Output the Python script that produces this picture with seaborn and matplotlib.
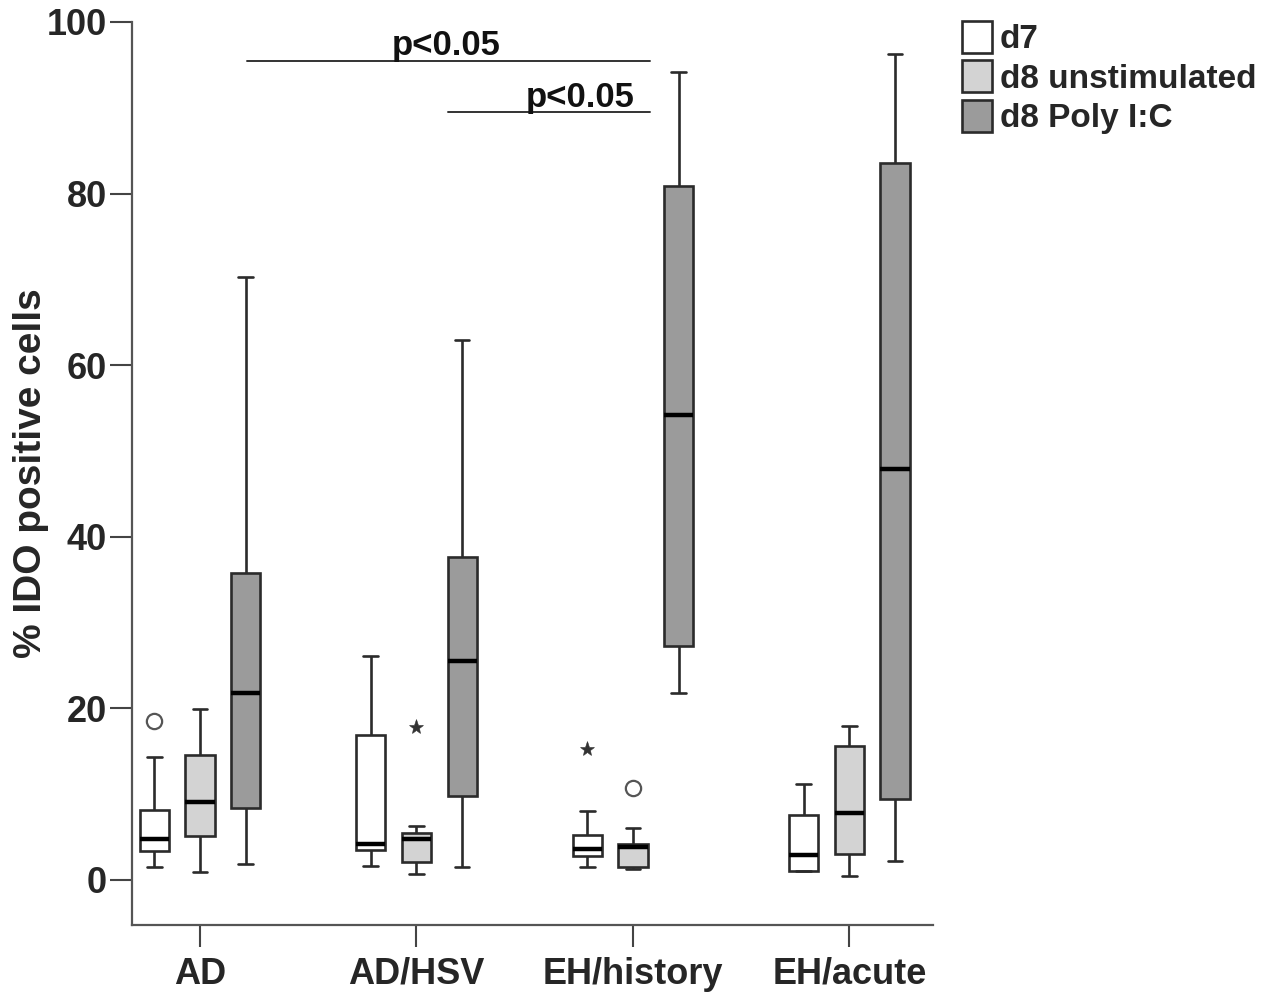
import numpy as np
import pandas as pd
import matplotlib.pyplot as plt
import seaborn as sns

# categories
groups = ["AD", "AD/HSV", "EH/history", "EH/acute"]
conditions = ["d7", "d8 unstimulated", "d8 Poly I:C"]
box_colors = ["#ffffff", "#d3d3d3", "#9b9b9b"]

# values (whisker low ... hinges/median ... whisker high, then outliers)
d7_values = [
    [1.5, 2.5, 3.4, 4.0, 4.8, 6.0, 8.2, 14.3, 18.5],
    [1.6, 3.5, 4.2, 16.9, 26.1],
    [1.5, 2.2, 2.8, 3.2, 3.6, 4.5, 5.2, 8.0, 15.3],
    [1.0, 1.0, 2.9, 7.6, 11.2],
]
d8_unstim_values = [
    [0.9, 5.1, 9.1, 14.6, 19.9],
    [0.7, 1.5, 2.1, 4.0, 4.8, 5.2, 5.5, 6.3, 17.8],
    [1.3, 1.4, 1.5, 3.0, 3.8, 4.0, 4.2, 6.1, 10.7],
    [0.5, 3.0, 7.8, 15.6, 18.0],
]
d8_polyic_values = [
    [1.9, 8.4, 21.8, 35.8, 70.3],
    [1.5, 9.8, 25.5, 37.6, 62.9],
    [21.8, 27.3, 54.2, 80.9, 94.2],
    [2.2, 9.4, 47.9, 83.6, 96.3],
]
# extreme values are marked with a star instead of a circle
extreme_outliers = [17.8, 15.3]

# significance brackets
sig_labels = ["p<0.05", "p<0.05"]
sig_x_start = [0.217, 1.145]
sig_x_end = [2.078, 2.078]
sig_y = [95.5, 89.5]
sig_text_x = [1.136, 1.755]

rows = []
for cond, per_group in zip(conditions, [d7_values, d8_unstim_values, d8_polyic_values]):
    for grp, vals in zip(groups, per_group):
        for v in vals:
            rows.append({"group": grp, "condition": cond, "value": v})
df = pd.DataFrame(rows)

sns.set_theme(style="white")
plt.rcParams["font.family"] = ["Liberation Sans", "DejaVu Sans"]
plt.rcParams["font.weight"] = "bold"

fig = plt.figure(figsize=(12.84, 9.98), dpi=100)
ax = fig.add_axes([0.1028, 0.0731, 0.6238, 0.9049])

sns.boxplot(
    data=df, x="group", y="value", hue="condition",
    order=groups, hue_order=conditions, palette=box_colors,
    saturation=1, width=0.633, gap=0.36, whis=1.5,
    linecolor="#2b2b2b", linewidth=1.9,
    medianprops={"color": "black", "linewidth": 3.2},
    flierprops={"marker": "o", "markersize": 11, "markerfacecolor": "white",
                "markeredgecolor": "#555555", "markeredgewidth": 1.6},
    ax=ax,
)

# restyle the extreme outliers as stars
for line in ax.lines:
    if line.get_marker() == "o":
        yd = np.asarray(line.get_ydata(), dtype=float)
        if len(yd) and np.any(np.isclose(yd[:, None], extreme_outliers).any(axis=1)):
            line.set_marker("*")
            line.set_markersize(11)
            line.set_markerfacecolor("#333333")
            line.set_markeredgecolor("#333333")
            line.set_markeredgewidth(0.4)

for xs, xe, y, tx, lab in zip(sig_x_start, sig_x_end, sig_y, sig_text_x, sig_labels):
    ax.plot([xs, xe], [y, y], color="#333333", linewidth=1.4)
    ax.text(tx, y + 0.6, lab, ha="center", va="baseline", fontsize=25,
            fontweight="bold", color="#111111")

ax.set_xlim(-0.314, 3.386)
ax.set_ylim(-5.25, 100)
ax.set_yticks([0, 20, 40, 60, 80, 100])
ax.set_xlabel("")
ax.set_ylabel("% IDO positive cells", fontsize=28, fontweight="bold")
ax.yaxis.set_label_coords(-0.103, 0.5)

for side in ["top", "right"]:
    ax.spines[side].set_visible(False)
for side in ["left", "bottom"]:
    ax.spines[side].set_color("#555555")
    ax.spines[side].set_linewidth(1.6)

ax.tick_params(axis="both", which="major", length=16, width=1.5, color="#444444",
               labelsize=26, direction="out", left=True, bottom=True)
ax.tick_params(axis="y", pad=2)
ax.tick_params(axis="x", pad=7)
for lbl in ax.get_xticklabels() + ax.get_yticklabels():
    lbl.set_fontweight("bold")

handles, labels = ax.get_legend_handles_labels()
ax.legend(handles, labels, loc="upper left", bbox_to_anchor=(0.749, 0.979),
          bbox_transform=fig.transFigure, frameon=False,
          handlelength=0.9, handleheight=1.1, handletextpad=0.25,
          labelspacing=0.15, borderaxespad=0, borderpad=0,
          prop={"weight": "bold", "size": 24})

fig.savefig("out.png", dpi=100)
